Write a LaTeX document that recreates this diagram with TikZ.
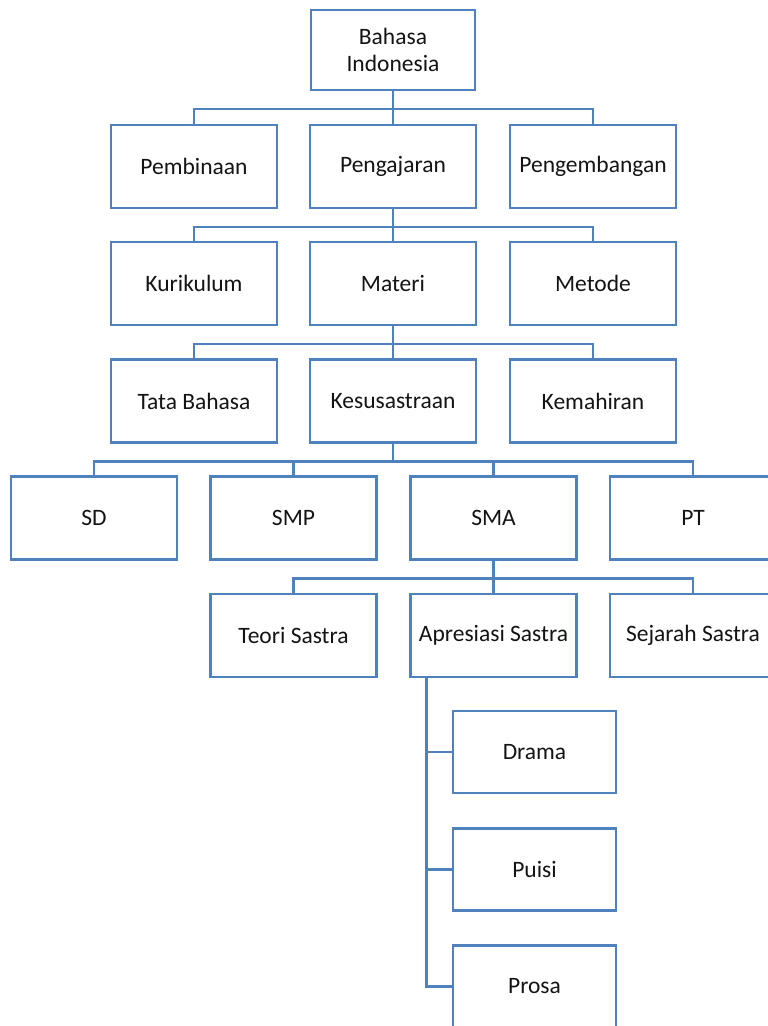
\documentclass[tikz,border=0pt]{standalone}
\usepackage{fontspec}
\setmainfont{Carlito}
\definecolor{boxblue}{RGB}{79,129,189}
\definecolor{txt}{RGB}{20,20,20}
\begin{document}
\begin{tikzpicture}[x=1pt,y=-1pt,
  bx/.style={draw=boxblue, line width=2.6pt, fill=white, minimum width=166pt, minimum height=83pt,
    inner sep=0pt, font=\fontsize{23.5}{27}\selectfont, text=txt, align=center},
  sbx/.style={bx, minimum width=163pt, minimum height=82pt},
  conn/.style={draw=boxblue, line width=2.6pt}]
\useasboundingbox (0,0) rectangle (768,1026);
\clip (0,0) rectangle (768,1026);
% nodes
\node[bx, minimum width=164pt, minimum height=80pt] (root) at (393,50) {Bahasa\\Indonesia};
\node[bx] (pemb) at (194,166.5) {Pembinaan};
\node[bx] (peng) at (393,166.5) {Pengajaran};
\node[bx] (pengem) at (593,166.5) {Pengembangan};
\node[bx] (kur) at (194,283.5) {Kurikulum};
\node[bx] (mat) at (393,283.5) {Materi};
\node[bx] (met) at (593,283.5) {Metode};
\node[bx] (tata) at (194,401) {Tata Bahasa};
\node[bx] (kes) at (393,401) {Kesusastraan};
\node[bx] (kem) at (593,401) {Kemahiran};
\node[bx] (sd) at (94,518) {SD};
\node[bx] (smp) at (293.5,518) {SMP};
\node[bx] (sma) at (493.5,518) {SMA};
\node[bx] (pt) at (693,518) {PT};
\node[bx] (teori) at (293.5,635.5) {Teori Sastra};
\node[bx] (apr) at (493.5,635.5) {Apresiasi Sastra};
\node[bx] (sej) at (693,635.5) {Sejarah Sastra};
\node[sbx] (drama) at (534.5,752) {Drama};
\node[sbx] (puisi) at (534.5,869.5) {Puisi};
\node[sbx] (prosa) at (534.5,986.5) {Prosa};
% connectors
\foreach \c in {pemb,peng,pengem} \draw[conn] (root.south) -- ++(0,17.5) -| (\c.north);
\foreach \c in {kur,mat,met} \draw[conn] (peng.south) -- ++(0,17.5) -| (\c.north);
\foreach \c in {tata,kes,kem} \draw[conn] (mat.south) -- ++(0,17.5) -| (\c.north);
\foreach \c in {sd,smp,sma,pt} \draw[conn] (kes.south) -- ++(0,17.5) -| (\c.north);
\foreach \c in {teori,apr,sej} \draw[conn] (sma.south) -- ++(0,17.5) -| (\c.north);
\coordinate (aprtap) at ([xshift=17pt]apr.south west);
\foreach \c in {drama,puisi,prosa} \draw[conn] (aprtap) |- (\c.west);
\end{tikzpicture}
\end{document}
